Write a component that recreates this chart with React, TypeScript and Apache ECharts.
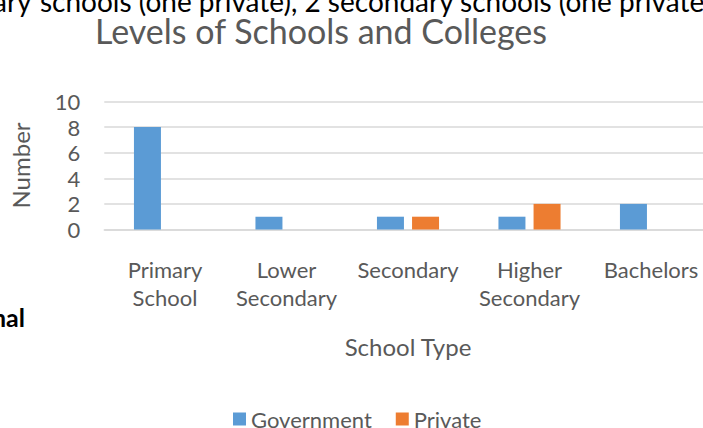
import React, { useEffect, useRef } from "react";
import * as echarts from "echarts";

const categories = ["Primary\nSchool", "Lower\nSecondary", "Secondary", "Higher\nSecondary", "Bachelors"];
const governmentValues = [8, 1, 1, 1, 2];
const privateValues = [0, 0, 1, 2, 0];
const seriesNames = ["Government", "Private"];
const yTicks = { min: 0, max: 10, interval: 2 };

const FONT = "Lato, 'Open Sans', sans-serif";
const GREY = "#595959";

export default function App() {
  const ref = useRef<HTMLDivElement>(null);
  useEffect(() => {
    if (!ref.current) return;
    const chart = echarts.init(ref.current, undefined, { renderer: "svg" });
    chart.setOption({
      animation: false,
      backgroundColor: "#ffffff",
      textStyle: { fontFamily: FONT },
      title: {
        text: "Levels of Schools and Colleges",
        left: 316,
        textAlign: "center",
        top: 8,
        textStyle: { fontFamily: FONT, fontSize: 34, fontWeight: "normal", color: GREY },
      },
      graphic: [
        {
          type: "text",
          x: 38,
          y: 15,
          style: {
            text: "primary ",
            fontFamily: FONT,
            fontSize: 28,
            fill: "#000000",
            textAlign: "right",
            textVerticalAlign: "bottom",
          },
        },
        {
          type: "text",
          x: 40,
          y: 15,
          style: {
            text: "schools (one private), 2 secondary schools (one private)",
            fontFamily: FONT,
            fontSize: 28,
            fill: "#000000",
            textAlign: "left",
            textVerticalAlign: "bottom",
          },
        },
        {
          type: "text",
          x: 25,
          y: 317,
          style: {
            text: "onal",
            fontFamily: FONT,
            fontSize: 25,
            fontWeight: "bold",
            fill: "#000000",
            textAlign: "right",
            textVerticalAlign: "middle",
          },
        },
      ],
      legend: {
        data: seriesNames,
        left: 233,
        top: 408,
        padding: 0,
        icon: "rect",
        itemWidth: 13,
        itemHeight: 13,
        itemGap: 24,
        textStyle: { fontFamily: FONT, fontSize: 22, color: GREY },
      },
      grid: { left: 104.25, width: 607.5, top: 101.5, bottom: 198.5, containLabel: false },
      xAxis: {
        type: "category",
        data: categories,
        name: "School Type",
        nameLocation: "middle",
        nameGap: 105,
        nameTextStyle: { fontFamily: FONT, fontSize: 24, color: GREY },
        axisTick: { show: false },
        axisLine: { lineStyle: { color: "#D9D9D9", width: 1.5 } },
        axisLabel: {
          interval: 0,
          margin: 26,
          fontFamily: FONT,
          fontSize: 22,
          lineHeight: 28,
          color: GREY,
        },
      },
      yAxis: {
        type: "value",
        min: yTicks.min,
        max: yTicks.max,
        interval: yTicks.interval,
        name: "Number",
        nameLocation: "middle",
        nameRotate: 90,
        nameGap: 72,
        nameTextStyle: { fontFamily: FONT, fontSize: 24, color: GREY },
        axisLine: { show: false },
        axisTick: { show: false },
        axisLabel: { margin: 24, fontFamily: FONT, fontSize: 22, color: GREY },
        splitLine: { lineStyle: { color: "#D9D9D9", width: 1.5 } },
      },
      series: [
        {
          name: seriesNames[0],
          type: "bar",
          data: governmentValues,
          barWidth: 27,
          barGap: "30%",
          itemStyle: { color: "#5B9BD5" },
        },
        {
          name: seriesNames[1],
          type: "bar",
          data: privateValues,
          barWidth: 27,
          barGap: "30%",
          itemStyle: { color: "#ED7D31" },
        },
      ],
    });
    return () => chart.dispose();
  }, []);
  return (
    <div style={{ position: "fixed", left: 0, top: 0, width: 703, height: 428, overflow: "hidden", background: "#fff" }}>
      <div ref={ref} style={{ position: "absolute", left: 0, top: 0, width: 720, height: 428 }} />
    </div>
  );
}
